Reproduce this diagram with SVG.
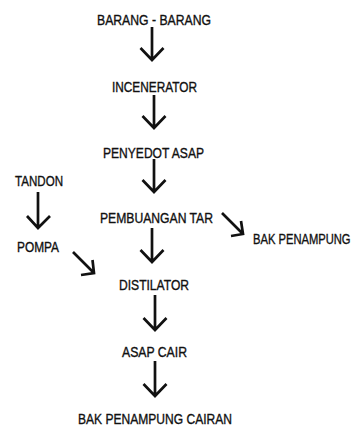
<svg xmlns="http://www.w3.org/2000/svg" width="360" height="426" viewBox="0 0 360 426">
<style>
text{font-family:"Liberation Sans",Arial,sans-serif;font-size:14px;fill:#111;stroke:#111;stroke-width:0.35}
.a{fill:none;stroke:#111;stroke-width:2.7;stroke-linecap:butt;stroke-linejoin:miter}
</style>
<rect width="360" height="426" fill="#fff"/>
<g id="n-barang"><text x="97" y="25" textLength="114" lengthAdjust="spacingAndGlyphs">BARANG - BARANG</text></g>
<g id="n-incenerator"><text x="112" y="92" textLength="85" lengthAdjust="spacingAndGlyphs">INCENERATOR</text></g>
<g id="n-penyedot"><text x="103" y="158" textLength="101" lengthAdjust="spacingAndGlyphs">PENYEDOT ASAP</text></g>
<g id="n-tandon"><text x="15" y="186" textLength="48" lengthAdjust="spacingAndGlyphs">TANDON</text></g>
<g id="n-pembuangan"><text x="100" y="223" textLength="113" lengthAdjust="spacingAndGlyphs">PEMBUANGAN TAR</text></g>
<g id="n-bak"><text transform="matrix(0.8 0 0 1 253 244)" x="0" y="0">BAK PENAMPUNG</text></g>
<g id="n-pompa"><text x="17" y="252" textLength="42" lengthAdjust="spacingAndGlyphs">POMPA</text></g>
<g id="n-distilator"><text x="119" y="290" textLength="70" lengthAdjust="spacingAndGlyphs">DISTILATOR</text></g>
<g id="n-asapcair"><text x="122" y="357" textLength="65" lengthAdjust="spacingAndGlyphs">ASAP CAIR</text></g>
<g id="n-bakcairan"><text x="78" y="424" textLength="154" lengthAdjust="spacingAndGlyphs">BAK PENAMPUNG CAIRAN</text></g>
<g id="connectors">
<path class="a" d="M152 27V60M140.5 48L152 60L163.5 48"/>
<path class="a" d="M154 95V128M142.5 116L154 128L165.5 116"/>
<path class="a" d="M154 159V192M142.5 180L154 192L165.5 180"/>
<path class="a" d="M38 192V228M27 216L38 228L50 216"/>
<path class="a" d="M152 228V262M140.5 250L152 262L163.5 250"/>
<path class="a" d="M155 295V330M143.5 318L155 330L166.5 318"/>
<path class="a" d="M155 361V396M143.5 384L155 396L166.5 384"/>
<path class="a" d="M222 213L242.5 233.5M241 221L243 234L231 236"/>
<path class="a" d="M73 252L93.5 272.5M92.5 260L94 273L81 275"/>
</g>
</svg>
